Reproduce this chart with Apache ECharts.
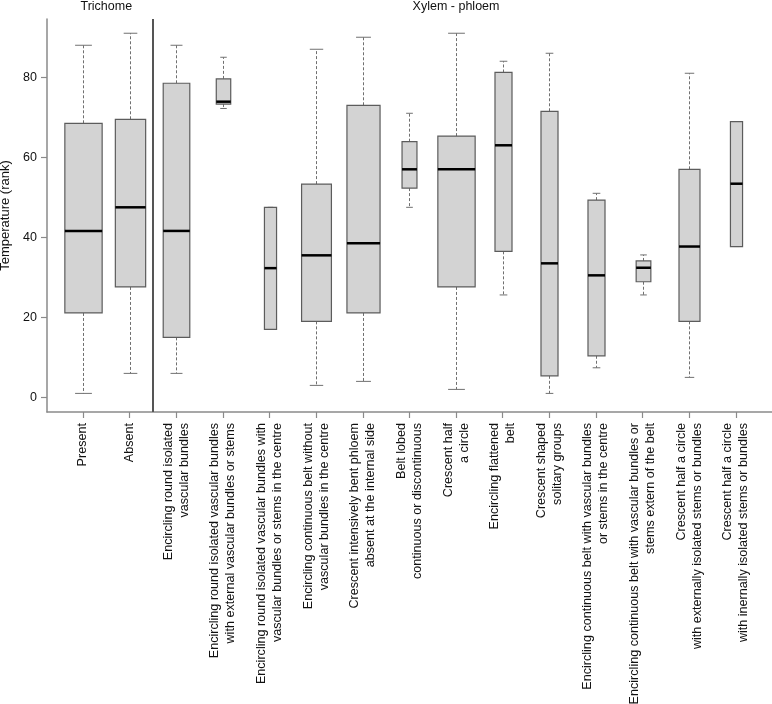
<!DOCTYPE html>
<html><head><meta charset="utf-8">
<script src="https://cdn.jsdelivr.net/npm/echarts@6/dist/echarts.min.js"></script>
<style>html,body{margin:0;padding:0;background:#fff}#c{width:772px;height:704px}</style>
</head><body><div id="c"></div>
<script>
// ---- data ----
const categories = [
  'Present',
  'Absent',
  'Encircling round isolated\nvascular bundles',
  'Encircling round isolated vascular bundles\nwith external vascular bundles or stems',
  'Encircling round isolated vascular bundles with\nvascular bundles or stems in the centre',
  'Encircling continuous belt without\nvascular bundles in the centre',
  'Crescent intensively bent phloem\nabsent at the internal side',
  'Belt lobed\ncontinuous or discontinuous',
  'Crescent half\na circle',
  'Encircling flattened\nbelt',
  'Crescent shaped\nsolitary groups',
  'Encircling continuous belt with vascular bundles\nor stems in the centre',
  'Encircling continuous belt with vascular bundles or\nstems extern of the belt',
  'Crescent half a circle\nwith externally isolated stems or bundles',
  'Crescent half a circle\nwith inernally isolated stems or bundles'
];
const lowerWhisker = [1, 6, 6, 72.2, 17, 3, 4, 47.5, 2, 25.6, 1, 7.4, 25.6, 5, 37.7];
const q1Values     = [21.1, 27.6, 15, 73.3, 17, 19, 21.1, 52.3, 27.6, 36.5, 5.4, 10.4, 28.9, 19, 37.7];
const medians      = [41.6, 47.5, 41.6, 73.9, 32.3, 35.5, 38.5, 57, 57, 63, 33.5, 30.5, 32.4, 37.7, 53.4];
const q3Values     = [68.5, 69.5, 78.5, 79.6, 47.5, 53.3, 73, 63.9, 65.3, 81.2, 71.5, 49.3, 34.1, 57, 68.9];
const upperWhisker = [88, 91, 88, 85, 47.5, 87, 90, 71, 91, 84, 86, 51, 35.6, 81, 68.9];
const yTicks = [0, 20, 40, 60, 80];
const groupHeaders = ['Trichome', 'Xylem - phloem'];
const groupCentres = [1.5, 9];      // category position at the centre of each group
const groupDivider = 2.5;           // boundary between the two groups

// ---- styling (not data) ----
const boxWidths = [0.80, 0.65, 0.57, 0.31, 0.26, 0.64, 0.71, 0.32, 0.80, 0.365, 0.365, 0.365, 0.315, 0.45, 0.26];
const FONT = '"Liberation Sans", Arial, Helvetica, sans-serif';

const positions = categories.map((c, i) => i + 1);
const seriesData = categories.map((c, i) => [i + 1, lowerWhisker[i], q1Values[i], medians[i], q3Values[i], upperWhisker[i]]);

function renderItem(params, api) {
  const i = params.dataIndex;
  const x = api.value(0);
  const pLo = api.coord([x, api.value(1)]);
  const pQ1 = api.coord([x, api.value(2)]);
  const pMed = api.coord([x, api.value(3)]);
  const pQ3 = api.coord([x, api.value(4)]);
  const pHi = api.coord([x, api.value(5)]);
  const cx = Math.round(pLo[0]) + 0.5;
  const half = api.size([boxWidths[i], 0])[0] / 2;
  const cap = half * 0.45;
  const wStyle = { stroke: '#707070', lineWidth: 1, lineDash: [3, 2], fill: null };
  const cStyle = { stroke: '#707070', lineWidth: 1, fill: null };
  return {
    type: 'group',
    children: [
      { type: 'line', shape: { x1: cx, y1: pQ3[1], x2: cx, y2: pHi[1] }, style: wStyle },
      { type: 'line', shape: { x1: cx, y1: pQ1[1], x2: cx, y2: pLo[1] }, style: wStyle },
      { type: 'line', shape: { x1: cx - cap, y1: pHi[1], x2: cx + cap, y2: pHi[1] }, style: cStyle },
      { type: 'line', shape: { x1: cx - cap, y1: pLo[1], x2: cx + cap, y2: pLo[1] }, style: cStyle },
      { type: 'rect', shape: { x: cx - half, y: pQ3[1], width: 2 * half, height: pQ1[1] - pQ3[1] },
        style: { fill: '#d3d3d3', stroke: '#5c5c5c', lineWidth: 1.2 } },
      { type: 'line', shape: { x1: cx - half, y1: pMed[1], x2: cx + half, y2: pMed[1] },
        style: { stroke: '#000', lineWidth: 2.5 } }
    ]
  };
}

const axisGrey = '#8a8a8a';
const chart = echarts.init(document.getElementById('c'), null, { renderer: 'canvas' });
chart.setOption({
  animation: false,
  backgroundColor: '#fff',
  textStyle: { fontFamily: FONT },
  grid: { left: 47, right: 0, top: 19, bottom: 292, containLabel: false, outerBoundsMode: 'none' },
  xAxis: {
    type: 'value', min: 0.228, max: 15.776,
    splitLine: { show: false },
    axisLine: { show: true, onZero: false, lineStyle: { color: axisGrey, width: 1.5 } },
    axisTick: { show: true, customValues: positions, length: 6, lineStyle: { color: axisGrey, width: 1.2 } },
    axisLabel: {
      show: true, customValues: positions, rotate: 90, margin: 11,
      fontSize: 12.6, lineHeight: 16, color: '#111', fontFamily: FONT,
      formatter: v => categories[Math.round(v) - 1] || ''
    }
  },
  yAxis: {
    type: 'value', min: -3.65, max: 94.56,
    name: 'Temperature (rank)', nameLocation: 'middle', nameGap: 32,
    nameTextStyle: { fontSize: 13, color: '#111', fontFamily: FONT },
    splitLine: { show: false },
    axisLine: { show: true, onZero: false, lineStyle: { color: axisGrey, width: 1.5 } },
    axisTick: { show: true, customValues: yTicks, length: 6, lineStyle: { color: axisGrey, width: 1.2 } },
    axisLabel: { show: true, customValues: yTicks, margin: 10, fontSize: 12.5, color: '#111', fontFamily: FONT }
  },
  series: [{
    type: 'custom',
    renderItem: renderItem,
    encode: { x: 0, y: [1, 2, 3, 4, 5] },
    data: seriesData,
    markLine: {
      silent: true, symbol: 'none', label: { show: false },
      lineStyle: { color: '#555', width: 2, type: 'solid' },
      data: [{ xAxis: groupDivider }]
    }
  }]
});

const headerGraphics = groupHeaders.map((t, i) => {
  const px = chart.convertToPixel({ xAxisIndex: 0, yAxisIndex: 0 }, [groupCentres[i], 0]);
  return {
    type: 'text', x: px[0], y: 7,
    style: { text: t, fontSize: 12.5, fill: '#111', fontFamily: FONT, align: 'center', verticalAlign: 'middle' }
  };
});
chart.setOption({ graphic: headerGraphics });
</script>
</body></html>
